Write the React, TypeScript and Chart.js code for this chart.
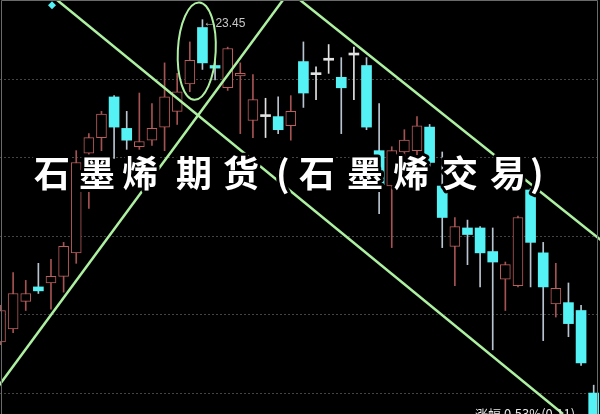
import React, { useEffect, useRef } from 'react';
import { Chart, registerables } from 'chart.js';

Chart.register(...registerables);

// OHLC values (price units)
const openPrices = [
  20.99, 21.09, 21.30, 21.41, 21.44, 21.49, 21.67, 22.43, 22.55, 22.86,
  22.62, 22.48, 22.53, 22.63, 22.75, 22.96, 23.39, 23.10, 22.93, 23.02,
  22.68, 22.71, 22.71, 22.64, 23.13, 23.03, 23.14, 23.01, 23.18, 23.10,
  22.45, 22.18, 22.44, 22.45, 22.63, 22.18, 21.72, 21.86, 21.86, 21.68,
  21.47, 21.42, 22.15, 21.67, 21.28, 21.29, 21.23, 20.60,
];
const closePrices = [
  21.23, 21.36, 21.36, 21.38, 21.49, 21.72, 22.36, 22.55, 22.73, 22.63,
  22.53, 22.52, 22.62, 22.86, 22.90, 23.14, 23.12, 23.08, 23.23, 23.04,
  22.84, 22.71, 22.61, 22.75, 22.89, 23.03, 23.14, 22.93, 23.18, 22.63,
  22.19, 22.45, 22.53, 22.64, 22.36, 21.94, 21.87, 21.81, 21.67, 21.60,
  21.58, 21.94, 21.75, 21.41, 21.40, 21.13, 20.83, 20.32,
];
const highPrices = [
  21.27, 21.52, 21.46, 21.59, 21.62, 21.75, 22.45, 22.58, 22.75, 22.87,
  22.75, 22.89, 22.81, 23.12, 23.04, 23.28, 23.45, 23.13, 23.24, 23.12,
  23.03, 22.85, 22.86, 22.87, 23.28, 23.09, 23.26, 23.16, 23.24, 23.16,
  22.81, 22.48, 22.61, 22.71, 22.65, 22.44, 21.94, 21.92, 21.87, 21.86,
  21.60, 21.95, 22.16, 21.75, 21.59, 21.44, 21.27, 20.66,
];
const lowPrices = [
  20.97, 21.06, 21.23, 21.36, 21.24, 21.37, 21.59, 22.01, 22.45, 22.39,
  22.46, 22.46, 22.49, 22.45, 22.65, 22.90, 23.07, 22.99, 22.91, 22.58,
  22.55, 22.55, 22.58, 22.53, 22.78, 22.84, 23.04, 22.58, 22.84, 22.61,
  21.97, 21.71, 22.34, 22.42, 22.33, 21.71, 21.42, 21.58, 21.41, 20.93,
  21.23, 21.41, 21.41, 21.00, 21.18, 21.03, 20.81, 20.24,
];

const gridLevels = [23.0, 22.4, 21.8, 21.2, 20.6];

// trend channel lines (index, price) endpoints
const trendLineA = [{ x: 4.48, y: 23.6 }, { x: 44.57, y: 20.44 }];
const trendLineB = [{ x: -1.78, y: 20.44 }, { x: 22.38, y: 23.6 }];
const trendLineC = [{ x: 23.73, y: 23.6 }, { x: 49.09, y: 21.65 }];

const highlightIndex = 16;
const highlightLabel = '23.45';
const ellipseCenter = { x: 15.55, y: 23.21 };
const ellipseRadius = { x: 1.5, y: 0.372 };
const markerPoint = { x: 4.08, y: 23.56 };

const watermarkText = '石墨烯期货(石墨烯交易)';
const footerText = '涨幅 0.53%(0.11)';

const RED = '#bc5e5e';
const RED_WICK = '#a45252';
const CYAN = '#55f2f5';
const CYAN_WICK = '#b8c4d0';
const WHITE = '#e2e2e2';
const GREEN = '#aef0a2';

const kind = (i: number) =>
  closePrices[i] > openPrices[i] ? 'up' : closePrices[i] < openPrices[i] ? 'down' : 'flat';

export default function App() {
  const ref = useRef<HTMLCanvasElement>(null);
  useEffect(() => {
    if (!ref.current) return;
    const idx = openPrices.map((_, i) => i);
    const overlay = {
      id: 'overlay',
      beforeDatasetsDraw(chart: any) {
        const { ctx, chartArea, scales } = chart;
        const y = scales.y;
        ctx.save();
        ctx.strokeStyle = '#444444';
        ctx.lineWidth = 1;
        ctx.setLineDash([2, 2]);
        gridLevels.forEach((v) => {
          const py = Math.round(y.getPixelForValue(v)) + 0.5;
          ctx.beginPath();
          ctx.moveTo(chartArea.left, py);
          ctx.lineTo(chartArea.right, py);
          ctx.stroke();
        });
        ctx.restore();
      },
      afterDatasetsDraw(chart: any) {
        const { ctx, scales } = chart;
        const x = scales.x;
        const y = scales.y;
        ctx.save();
        // ellipse around the peak
        const cx = x.getPixelForValue(ellipseCenter.x);
        const cy = y.getPixelForValue(ellipseCenter.y);
        const rx = x.getPixelForValue(ellipseCenter.x + ellipseRadius.x) - cx;
        const ry = cy - y.getPixelForValue(ellipseCenter.y + ellipseRadius.y);
        ctx.strokeStyle = GREEN;
        ctx.lineWidth = 2;
        ctx.beginPath();
        ctx.ellipse(cx, cy, rx, ry, 0.05, 0, Math.PI * 2);
        ctx.stroke();
        // high label
        const hx = x.getPixelForValue(highlightIndex);
        const hy = y.getPixelForValue(highPrices[highlightIndex]);
        ctx.fillStyle = '#c8c8c8';
        ctx.font = '12px "Liberation Sans", Arial, sans-serif';
        ctx.textBaseline = 'middle';
        ctx.textAlign = 'left';
        ctx.fillText('←', hx + 1, hy + 3);
        ctx.fillText(highlightLabel, hx + 13, hy + 4);
        // marker diamond
        const mx = x.getPixelForValue(markerPoint.x);
        const my = y.getPixelForValue(markerPoint.y);
        ctx.fillStyle = CYAN;
        ctx.beginPath();
        ctx.moveTo(mx, my - 4);
        ctx.lineTo(mx + 4, my);
        ctx.lineTo(mx, my + 4);
        ctx.lineTo(mx - 4, my);
        ctx.closePath();
        ctx.fill();
        // frame
        ctx.strokeStyle = '#6a6a6a';
        ctx.lineWidth = 1;
        ctx.beginPath();
        ctx.moveTo(1.5, 414);
        ctx.lineTo(1.5, 0.5);
        ctx.lineTo(597.5, 0.5);
        ctx.lineTo(597.5, 414);
        ctx.stroke();
        // footer text (cut off at the bottom edge)
        ctx.fillStyle = '#e8e8e8';
        ctx.font = '13px "Noto Sans CJK SC", sans-serif';
        ctx.textBaseline = 'top';
        ctx.fillText(footerText, 475, 408);
        // watermark
        const chars = Array.from(watermarkText);
        const xs = [34, 79, 122, 176, 223, 276, 299, 347, 393, 442, 490, 530];
        ctx.font = 'bold 36px "Noto Sans CJK SC", sans-serif';
        ctx.textBaseline = 'middle';
        ctx.lineJoin = 'round';
        chars.forEach((c, i) => {
          ctx.strokeStyle = '#000';
          ctx.lineWidth = 6;
          ctx.strokeText(c, xs[i], 173);
          ctx.fillStyle = '#ffffff';
          ctx.fillText(c, xs[i], 173);
        });
        ctx.restore();
      },
    };

    const chart = new Chart(ref.current, {
      type: 'bar',
      data: {
        datasets: [
          {
            type: 'line',
            data: trendLineA,
            borderColor: GREEN,
            borderWidth: 2.5,
            pointRadius: 0,
            order: 0,
          } as any,
          {
            type: 'line',
            data: trendLineB,
            borderColor: GREEN,
            borderWidth: 2.5,
            pointRadius: 0,
            order: 0,
          } as any,
          {
            type: 'line',
            data: trendLineC,
            borderColor: GREEN,
            borderWidth: 2.5,
            pointRadius: 0,
            order: 0,
          } as any,
          {
            data: idx.map((i) => ({ x: i, y: [openPrices[i], closePrices[i]] })),
            backgroundColor: idx.map((i) => (kind(i) === 'up' ? '#000' : kind(i) === 'down' ? CYAN : WHITE)),
            borderColor: idx.map((i) => (kind(i) === 'up' ? RED : kind(i) === 'down' ? CYAN : WHITE)),
            borderWidth: idx.map((i) => (kind(i) === 'up' ? 1 : 0)),
            borderSkipped: false,
            barThickness: 10,
            minBarLength: 2,
            grouped: false,
            order: 1,
          } as any,
          {
            data: idx.map((i) => ({ x: i, y: [lowPrices[i], highPrices[i]] })),
            backgroundColor: idx.map((i) => (kind(i) === 'up' ? RED_WICK : kind(i) === 'down' ? CYAN_WICK : WHITE)),
            borderWidth: 0,
            barThickness: 1,
            grouped: false,
            order: 2,
          } as any,
        ],
      },
      options: {
        animation: false,
        responsive: false,
        devicePixelRatio: 1,
        layout: { padding: 0 },
        plugins: { legend: { display: false }, tooltip: { enabled: false } },
        scales: {
          x: { type: 'linear', min: -0.04, max: 47.5, display: false, offset: false, grid: { offset: false } },
          y: { type: 'linear', min: 20.44, max: 23.6, display: false },
        },
      } as any,
      plugins: [overlay],
    });
    return () => chart.destroy();
  }, []);

  return (
    <div style={{ position: 'fixed', left: 0, top: 0, width: 600, height: 414, background: '#000' }}>
      <canvas ref={ref} width={600} height={414} style={{ display: 'block' }} />
    </div>
  );
}
